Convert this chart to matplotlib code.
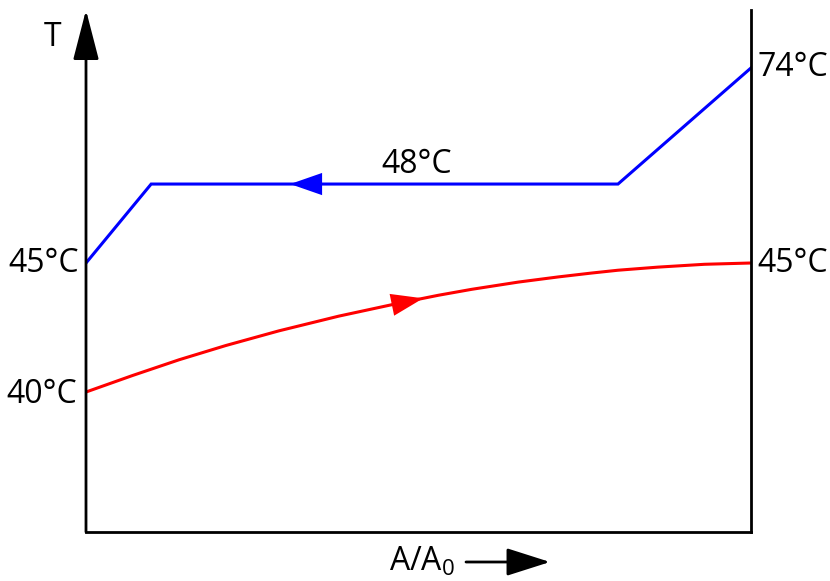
import numpy as np
import matplotlib
matplotlib.use('Agg')
import matplotlib.pyplot as plt

plt.rcParams['font.family'] = ['Open Sans', 'DejaVu Sans']

# hot stream (blue) and cold stream (red), x = A/A0, y = temperature in degC
hot_x = [0.0, 0.098, 0.80, 1.0]
hot_T = [45, 48, 48, 74]
cold_x = [0.0, 0.07, 0.14, 0.21, 0.29, 0.38, 0.47, 0.53, 0.58, 0.65, 0.71,
          0.76, 0.80, 0.86, 0.93, 1.0]
cold_T = [40.0, 40.64, 41.25, 41.80, 42.37, 42.94, 43.44, 43.75, 43.98, 44.26,
          44.46, 44.61, 44.72, 44.84, 44.95, 45.0]

# schematic (not to scale) temperature axis
knots_T = [0, 40, 45, 48, 74, 100]
knots_y = [-8, 0, 1, 1.612, 2.512, 3.5]
fwd = lambda t: np.interp(t, knots_T, knots_y)
inv = lambda y: np.interp(y, knots_y, knots_T)

fig = plt.figure(figsize=(8.3, 5.81), dpi=100)
ax = fig.add_axes([86/830, 49/581, 665/830, 522/581])
ax.set_yscale('function', functions=(fwd, inv))
ax.set_xlim(0, 1)
ax.set_ylim(inv(-1.085), inv(2.961))

ax.plot(hot_x, hot_T, color='#0000ff', lw=2.2, solid_joinstyle='miter')
ax.plot(cold_x, cold_T, color='#ff0000', lw=2.2)

arr = dict(color='#0000ff', lw=0, shrinkA=0, shrinkB=0, mutation_scale=10,
           arrowstyle='-|>,head_length=2.3,head_width=0.8')
ax.annotate('', xy=(0.307, 48), xytext=(0.40, 48), arrowprops=arr)
tip, tail = 0.507, 0.44
arr_r = dict(arr, color='#ff0000')
ax.annotate('', xy=(tip, np.interp(tip, cold_x, cold_T)),
            xytext=(tail, np.interp(tail, cold_x, cold_T)), arrowprops=arr_r)

for s in ['top', 'left']:
    ax.spines[s].set_visible(False)
for s in ['bottom', 'right']:
    ax.spines[s].set_linewidth(2)
ax.set_xticks([])
ax.set_yticks([])
ax.minorticks_off()
ax.tick_params(which='both', left=False, right=False, bottom=False)

ax.annotate('', xy=(0, 1.0), xycoords='axes fraction', xytext=(0, 0),
            textcoords='axes fraction', annotation_clip=False,
            arrowprops=dict(arrowstyle='-|>,head_length=3.1,head_width=0.8',
                            color='black', lw=2, shrinkA=0, shrinkB=0,
                            mutation_scale=10))

fs = 23
ax.annotate('T', xy=(0, 1), xycoords='axes fraction', xytext=(-33, -28),
            textcoords='offset pixels', ha='center', va='center', fontsize=fs)
ax.annotate('45°C', xy=(0, 45), xytext=(-7, 0), textcoords='offset pixels',
            ha='right', va='center', fontsize=fs)
ax.annotate('40°C', xy=(0, 40), xytext=(-9, -2), textcoords='offset pixels',
            ha='right', va='center', fontsize=fs)
ax.annotate('74°C', xy=(1, 74), xytext=(6, 0), textcoords='offset pixels',
            ha='left', va='center', fontsize=fs)
ax.annotate('45°C', xy=(1, 45), xytext=(6, 0), textcoords='offset pixels',
            ha='left', va='center', fontsize=fs)
ax.annotate('48°C', xy=(0.498, 48), xytext=(0, 20), textcoords='offset pixels',
            ha='center', va='center', fontsize=fs)

fig.text(422/830, 1 - 562/581, r'$\mathregular{A/A_0}$', ha='center',
         va='center', fontsize=fs)
fig.add_artist(matplotlib.patches.FancyArrowPatch(
    (466/830, 1 - 562/581), (550/830, 1 - 562/581), transform=fig.transFigure,
    arrowstyle='-|>,head_length=2.7,head_width=0.86', mutation_scale=10,
    color='black', lw=2, shrinkA=0, shrinkB=0))

fig.savefig('out.png', dpi=100)
